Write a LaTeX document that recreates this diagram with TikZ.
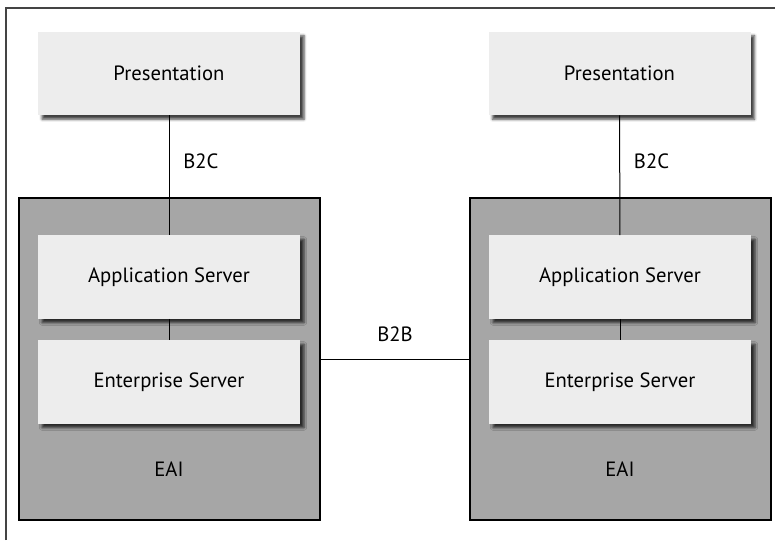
\documentclass[tikz,border=0pt]{standalone}
\usepackage{fontspec}
\setmainfont{PT Sans}
\usetikzlibrary{positioning,shadows.blur}
\definecolor{tierfill}{HTML}{EDEDED}
\definecolor{eaifill}{HTML}{A6A6A6}
\definecolor{framecol}{HTML}{444444}

\begin{document}
\begin{tikzpicture}[x=0.75pt, y=-0.75pt,
		font=\fontsize{15.5}{18}\selectfont,
		tier/.style={fill=tierfill, inner sep=0pt, minimum width=196.5pt, minimum height=62.5pt,
			blur shadow={shadow xshift=3pt, shadow yshift=-3pt, shadow blur steps=4, shadow opacity=75}},
		eai/.style={draw=black, line width=0.9pt, fill=eaifill, inner sep=0pt, minimum width=225.75pt, minimum height=241.5pt},
		link/.style={draw=black, line width=0.75pt}]
		\useasboundingbox (0,0) rectangle (775,540);
		\draw[framecol, line width=1.5pt] (5.5,540) -- (5.5,8) -- (775,8);
		
		\node[eai] (EAIL) at (169.5,359) {};
		\node[eai] (EAIR) at (620.5,359) {};
		\node[tier] (PresL) at (169,73.5) {Presentation};
		\node[tier] (PresR) at (619.5,73.5) {Presentation};
		\node[tier] (AppL) at (169,277) {Application Server};
		\node[tier] (AppR) at (620,277) {Application Server};
		\node[tier] (EntL) at (169,382) {Enterprise Server};
		\node[tier] (EntR) at (620,382) {Enterprise Server};
		\node[below=25pt of EntL] {EAI};
		\node[below=25pt of EntR] {EAI};
		
		\draw[link] (PresL) -- (AppL) node[pos=.38, right=7pt] {B2C};
		\draw[link] (PresR) -- (AppR) node[pos=.38, right=7pt] {B2C};
		\draw[link] (AppL) -- (EntL);
		\draw[link] (AppR) -- (EntR);
		\draw[link] (EAIL) -- (EAIR) node[midway, above=9pt] {B2B};
	\end{tikzpicture}
\end{document}
